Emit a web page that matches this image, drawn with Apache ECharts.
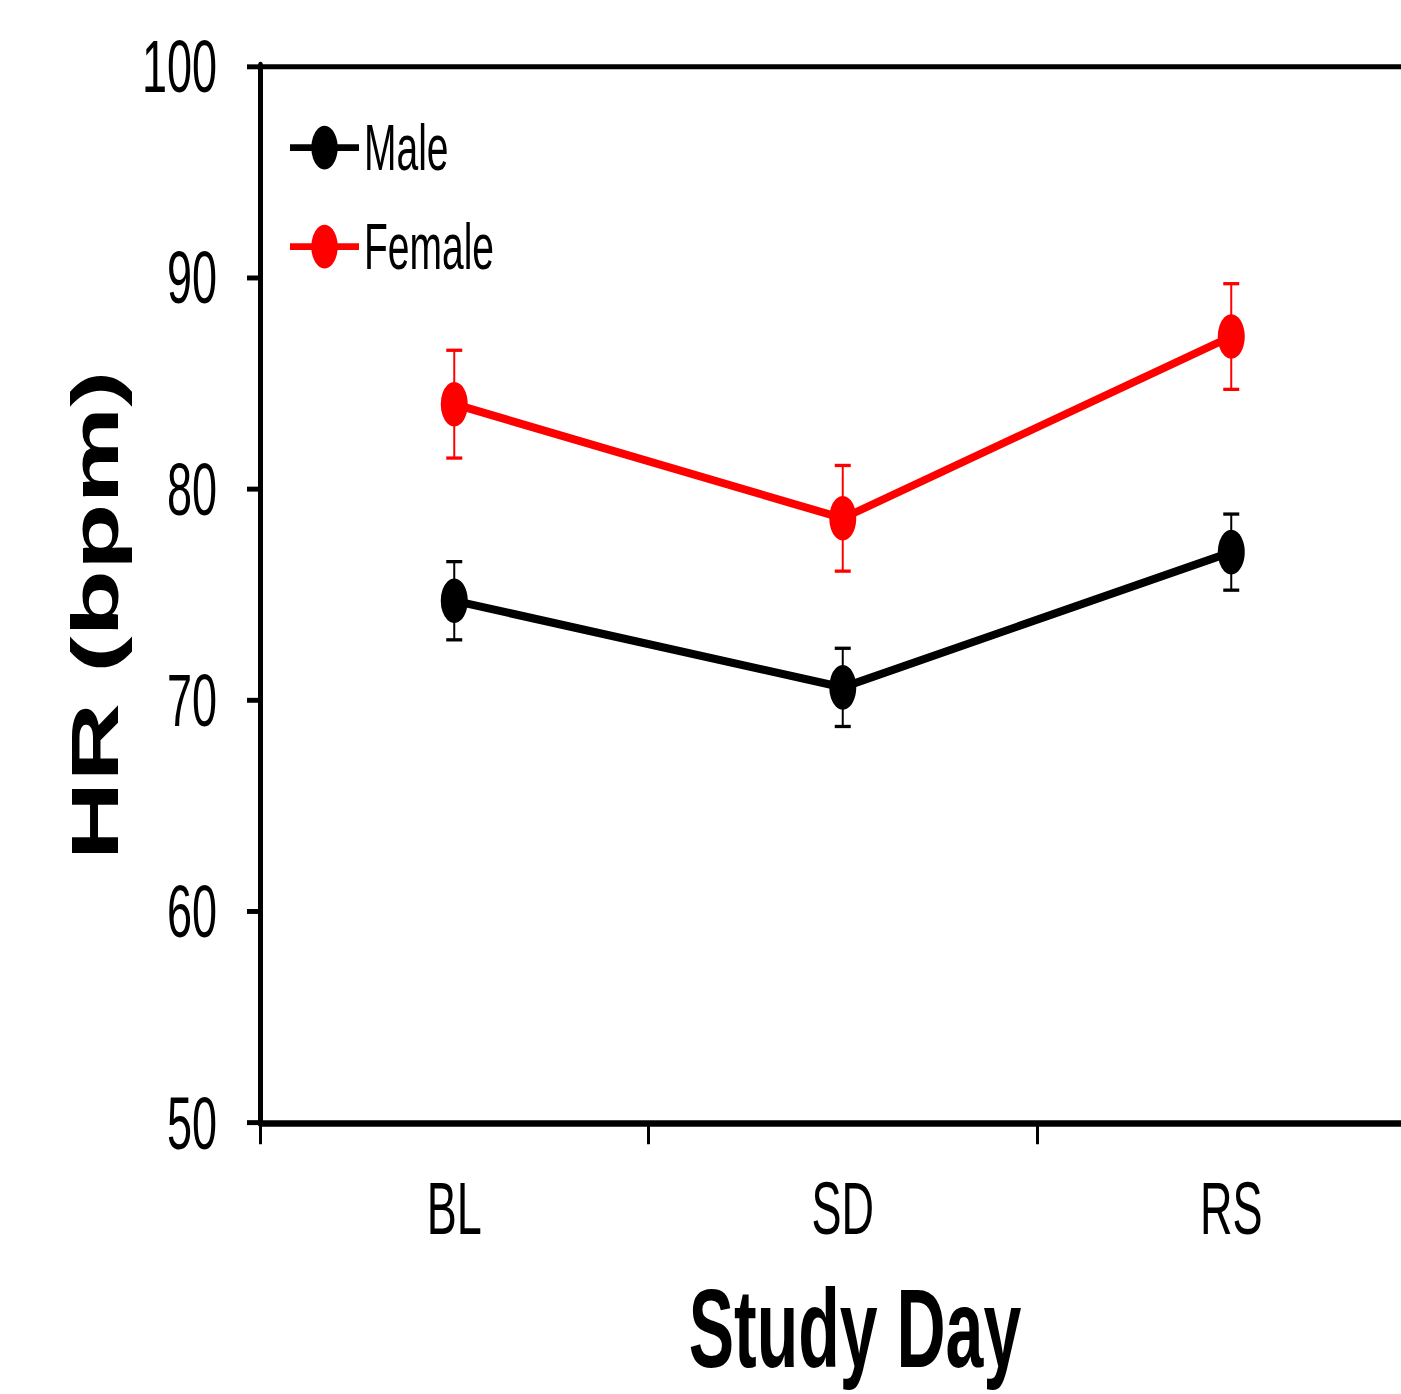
<!DOCTYPE html>
<html><head><meta charset="utf-8">
<script src="https://cdn.jsdelivr.net/npm/echarts@6/dist/echarts.min.js"></script>
<style>
html,body{margin:0;padding:0;background:#fff;overflow:hidden;width:1401px;height:1394px;}
#wrap{width:1401px;height:1394px;overflow:hidden;position:relative;}
#chart{width:1440px;height:845px;transform:scaleY(1.6497);transform-origin:0 0;}
</style></head><body><div id="wrap"><div id="chart"></div></div>
<script>
const categories = ['BL', 'SD', 'RS'];
const maleMean = [74.7, 70.6, 77.0];
const maleErr = [1.85, 1.85, 1.8];
const femaleMean = [84.0, 78.6, 87.2];
const femaleErr = [2.55, 2.5, 2.5];
const yMin = 50, yMax = 100, yStep = 10;
const xTitle = 'Study Day';
const yTitle = 'HR (bpm)';

const FONT = '"Liberation Sans", Arial, sans-serif';
const chart = echarts.init(document.getElementById('chart'), null, {renderer: 'svg'});

function errSeries(name, mean, err, color) {
  return {
    name: name + ' err',
    type: 'custom',
    z: 2,
    silent: true,
    encode: {x: 0, y: 1},
    data: mean.map((m, i) => [i, m, err[i]]),
    renderItem: function (params, api) {
      const x = api.value(0), m = api.value(1), e = api.value(2);
      const t = api.coord([x, m + e]);
      const b = api.coord([x, m - e]);
      const hw = 8;
      const style = {stroke: color, lineWidth: 2};
      return {
        type: 'group',
        children: [
          {type: 'line', shape: {x1: t[0], y1: t[1], x2: b[0], y2: b[1]}, style: style},
          {type: 'line', shape: {x1: t[0] - hw, y1: t[1], x2: t[0] + hw, y2: t[1]}, style: style},
          {type: 'line', shape: {x1: b[0] - hw, y1: b[1], x2: b[0] + hw, y2: b[1]}, style: style}
        ]
      };
    }
  };
}

function lineSeries(name, mean, color) {
  return {
    name: name,
    type: 'line',
    z: 3,
    data: mean,
    symbol: 'circle',
    symbolSize: 27,
    lineStyle: {color: color, width: 5},
    itemStyle: {color: color},
    animation: false
  };
}

chart.setOption({
  animation: false,
  backgroundColor: '#ffffff',
  grid: {left: 260, right: 14.5, top: 40, bottom: 164.4, containLabel: false},
  legend: {
    data: ['Male', 'Female'],
    left: 283,
    top: 65,
    orient: 'vertical',
    itemWidth: 69,
    itemHeight: 33,
    itemGap: 21,
    textStyle: {fontFamily: FONT, fontSize: 39, color: '#000'},
    lineStyle: {width: 4}
  },
  xAxis: [{
    type: 'category',
    data: categories,
    boundaryGap: true,
    axisLine: {lineStyle: {color: '#000', width: 4}},
    axisTick: {show: true, length: 13, lineStyle: {color: '#000', width: 3}},
    axisLabel: {fontFamily: FONT, fontSize: 45, color: '#000', margin: 29},
    splitLine: {show: false}
  }, {
    type: 'category',
    data: categories,
    position: 'top',
    axisLine: {lineStyle: {color: '#000', width: 3}},
    axisTick: {show: false},
    axisLabel: {show: false},
    splitLine: {show: false}
  }],
  yAxis: {
    type: 'value',
    min: yMin,
    max: yMax,
    interval: yStep,
    axisLine: {show: true, lineStyle: {color: '#000', width: 5}},
    axisTick: {show: true, length: 13, lineStyle: {color: '#000', width: 3}},
    axisLabel: {fontFamily: FONT, fontSize: 45, color: '#000', margin: 43, padding: [0, 0, 13, 0]},
    splitLine: {show: false}
  },
  graphic: [
    {type: 'text', x: 855, y: 805, z: 10,
      style: {text: xTitle, fontFamily: FONT, fontWeight: 'bold', fontSize: 68, fill: '#000', align: 'center', verticalAlign: 'middle'}},
    {type: 'text', x: 95, y: 373, rotation: Math.PI / 2, z: 10,
      style: {text: yTitle, fontFamily: FONT, fontWeight: 'bold', fontSize: 66, fill: '#000', align: 'center', verticalAlign: 'middle'}}
  ],
  series: [
    errSeries('Male', maleMean, maleErr, '#000000'),
    errSeries('Female', femaleMean, femaleErr, '#ff0000'),
    lineSeries('Male', maleMean, '#000000'),
    lineSeries('Female', femaleMean, '#ff0000')
  ]
});
</script></body></html>
